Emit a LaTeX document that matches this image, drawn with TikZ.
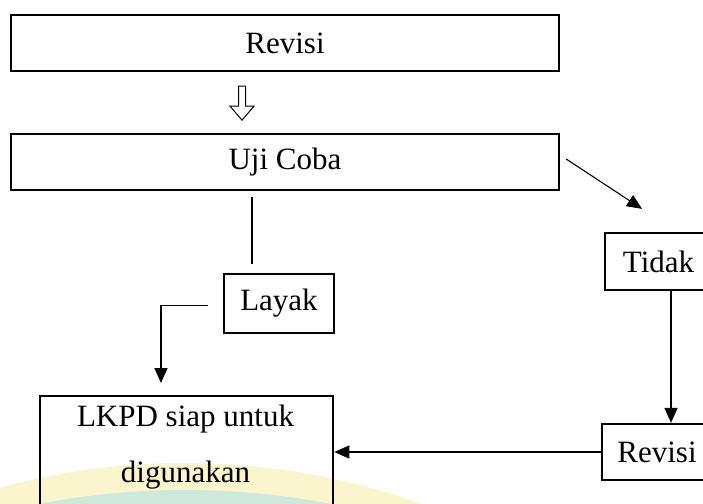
\documentclass[tikz,border=0pt]{standalone}
\usepackage{fontspec}
\setmainfont{Liberation Serif}
\usetikzlibrary{arrows.meta}

\definecolor{wmyellow}{RGB}{251,245,206}
\definecolor{wmteal}{RGB}{206,232,220}

\begin{document}
\begin{tikzpicture}[x=1pt, y=-1pt,
    every node/.style={font=\fontsize{31}{37}\selectfont, inner sep=0pt},
    box/.style={draw, line width=2.3pt},
    conn/.style={line width=1.4pt},
    arr/.style={line width=1.4pt, -{Triangle[length=15pt, width=13pt]}}]
    \useasboundingbox (0,0) rectangle (703,503);
    % faint watermark at the bottom
    \begin{scope}
        \clip (0,0) rectangle (703,503);
        \fill[wmyellow] (185,1163) circle (700);
        \fill[wmteal] (185,1250) circle (760);
    \end{scope}

    \node[box, minimum width=548pt, minimum height=56pt] (rev1) at (285,43) {Revisi};
    \node[box, minimum width=548pt, minimum height=56pt] (uji) at (285,162) {Uji Coba};
    \node[box, minimum width=110pt, minimum height=59pt] (layak) at (279,303.5) {Layak};
    \node[box, minimum width=293pt, minimum height=140pt, anchor=north west] (lkpd) at (39,395) {};
    \node[align=center] (lkpdtxt) at (185.5,447) {LKPD siap untuk\\[19pt]digunakan};
    \node[box, minimum width=107pt, minimum height=57pt] (tidak) at (658.5,261.5) {Tidak};
    \node[box, minimum width=110pt, minimum height=56pt] (rev2) at (657,452) {Revisi};

    % hollow arrow between the two top boxes
    \draw[line width=1pt] ([xshift=-46.5pt, yshift=-14pt]rev1.south) -- ++(0,20) -- ++(-8.5,0)
        -- ++(12,14) -- ++(12,-14) -- ++(-8.5,0) -- ++(0,-20) -- cycle;

    \draw[conn] ([xshift=-27pt, yshift=-6pt]uji.south -| layak.north) -- ([xshift=-27pt, yshift=9pt]layak.north);
    \draw[arr] ([xshift=-15pt, yshift=-2pt]layak.west) -| ([xshift=122pt, yshift=12pt]lkpd.north west);
    \draw[line width=1.1pt, -{Triangle[length=15pt, width=13pt]}] ([xshift=6pt, yshift=3pt]uji.east) -- ([xshift=-16.5pt, yshift=23pt]tidak.north);
    \draw[arr] ([xshift=12.5pt]tidak.south) -- ([xshift=12.5pt]tidak.south |- rev2.north);
    \draw[arr] (rev2.west) -- (rev2.west -| lkpd.east);
\end{tikzpicture}
\end{document}
